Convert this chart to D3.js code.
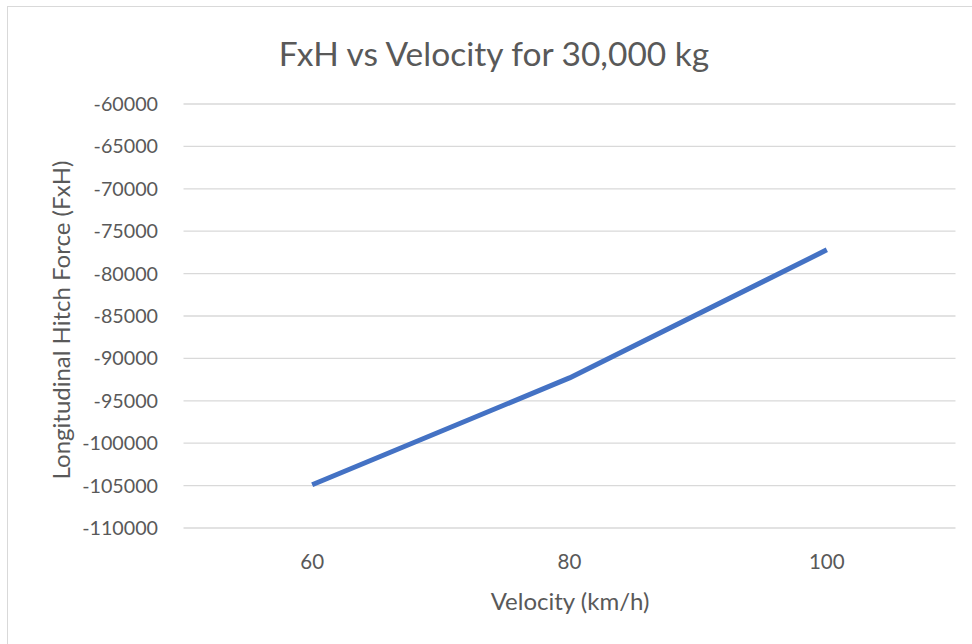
<!DOCTYPE html>
<html><head><meta charset="utf-8">
<script src="https://cdn.jsdelivr.net/npm/d3@7"></script>
<style>body{margin:0;background:#fff}svg{display:block}</style>
</head><body>
<script>
const categories = ["60", "80", "100"];
const fxh = [-104900, -92300, -77200];
const yTicks = [-60000,-65000,-70000,-75000,-80000,-85000,-90000,-95000,-100000,-105000,-110000];
const title = "FxH vs Velocity for 30,000 kg";
const xTitle = "Velocity (km/h)";
const yTitle = "Longitudinal Hitch Force (FxH)";

const W = 972, H = 644;
const m = {left: 183.5, right: 16.5, top: 104, bottom: 116};
const font = "Lato, 'Open Sans', sans-serif";
const svg = d3.select("body").append("svg").attr("width", W).attr("height", H);
svg.append("rect").attr("x", 7.5).attr("y", 6.5).attr("width", W).attr("height", H)
  .attr("fill", "#fff").attr("stroke", "#d9d9d9").attr("stroke-width", 1);

const x = d3.scaleBand().domain(categories).range([m.left, W - m.right]);
const y = d3.scaleLinear().domain([-110000, -60000]).range([H - m.bottom, m.top]);

svg.append("g").selectAll("line").data(yTicks).join("line")
  .attr("x1", m.left).attr("x2", W - m.right)
  .attr("y1", d => y(d)).attr("y2", d => y(d))
  .attr("stroke", "#d9d9d9").attr("stroke-width", 1.3);

svg.append("g").selectAll("text").data(yTicks).join("text")
  .attr("x", 158).attr("y", d => y(d)).attr("dy", "0.36em")
  .attr("text-anchor", "end").attr("font-family", font).attr("font-size", 19.7)
  .attr("fill", "#595959").text(d => d);

svg.append("g").selectAll("text").data(categories).join("text")
  .attr("x", d => x(d) + x.bandwidth() / 2).attr("y", 569)
  .attr("text-anchor", "middle").attr("font-family", font).attr("font-size", 20.5)
  .attr("fill", "#595959").text(d => d);

const line = d3.line().x((d, i) => x(categories[i]) + x.bandwidth() / 2).y(d => y(d));
svg.append("path").datum(fxh).attr("d", line).attr("fill", "none")
  .attr("stroke", "#4472C4").attr("stroke-width", 5).attr("stroke-linejoin", "round");

svg.append("text").attr("x", 494).attr("y", 66).attr("text-anchor", "middle")
  .attr("font-family", font).attr("font-size", 33.5).attr("fill", "#595959").text(title);
svg.append("text").attr("x", 570).attr("y", 610).attr("text-anchor", "middle")
  .attr("font-family", font).attr("font-size", 24).attr("fill", "#595959").text(xTitle);
svg.append("text").attr("transform", "translate(70,320) rotate(-90)").attr("text-anchor", "middle")
  .attr("font-family", font).attr("font-size", 24).attr("fill", "#595959").text(yTitle);
</script>
</body></html>
